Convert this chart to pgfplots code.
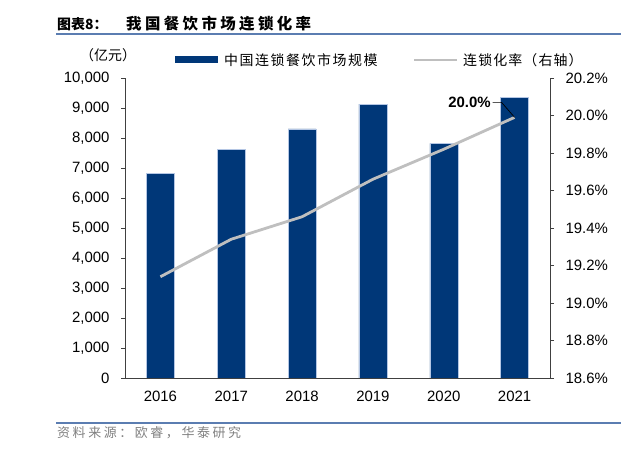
\documentclass[border=0pt]{standalone}
\usepackage{fontspec}
\setmainfont{Liberation Sans}
\newfontfamily\cjk{Noto Sans CJK SC}
\usepackage{pgfplots}
\pgfplotsset{compat=1.18}
\definecolor{barblue}{RGB}{0,55,120}
\definecolor{baredge}{RGB}{180,198,228}
\definecolor{linegray}{RGB}{191,191,191}
\definecolor{rulecol}{RGB}{91,125,177}
\definecolor{srcgray}{RGB}{128,128,128}
\begin{document}
\begin{tikzpicture}[x=1bp,y=1bp]
\useasboundingbox (0,0) rectangle (641,467);
% title
\node[anchor=west,inner sep=0] at (57,443) {\cjk\bfseries\fontsize{14}{16}\selectfont 图表8：};
\node[anchor=west,inner sep=0] at (126,443) {\cjk\bfseries\fontsize{15.5}{18}\selectfont\addfontfeatures{LetterSpace=22}我国餐饮市场连锁化率};
\draw[rulecol,line width=1.8bp] (56,433) -- (621,433);
% unit
\node[anchor=west,inner sep=0] at (80,412) {\cjk\fontsize{14}{16}\selectfont （亿元）};
% legend
\fill[barblue] (175,403.5) rectangle (218,410.5);
\node[anchor=west,inner sep=0] at (224,407) {\cjk\fontsize{14}{16}\selectfont\addfontfeatures{LetterSpace=11}中国连锁餐饮市场规模};
\draw[linegray,line width=2.5bp] (414,407) -- (457,407);
\node[anchor=west,inner sep=0] at (463,407) {\cjk\fontsize{14}{16}\selectfont\addfontfeatures{LetterSpace=8}连锁化率（右轴）};
% bottom
\draw[rulecol,line width=1.8bp] (56,44) -- (621,44);
\node[anchor=west,inner sep=0,text=srcgray] at (57,34) {\cjk\fontsize{13}{15}\selectfont\addfontfeatures{LetterSpace=20}资料来源：欧睿，华泰研究};

\begin{axis}[
  at={(125bp,89bp)}, anchor=south west,
  scale only axis, width=425bp, height=300bp,
  xmin=-0.5, xmax=5.5, ymin=0, ymax=10000,
  axis y line*=left, axis x line*=bottom,
  axis line style={black!75, line width=0.8bp},
  xtick={0,1,2,3,4,5},
  xticklabels={2016,2017,2018,2019,2020,2021},
  x tick style={draw=none},
  extra x ticks={0.5,1.5,2.5,3.5,4.5},
  extra x tick labels={},
  extra x tick style={tick style={draw=black!75,line width=0.8bp}, major tick length=4bp, tick align=outside},
  ytick={0,1000,...,10000},
  scaled y ticks=false,
  y tick style={black!75,line width=0.8bp},
  major tick length=4bp, tick align=outside,
  ticklabel style={font=\fontsize{15}{18}\selectfont},
  yticklabel style={xshift=-8bp},
  xticklabel style={yshift=-6bp},
  /pgf/number format/.cd, 1000 sep={,}, assume math mode=true,
]
\addplot[ybar, bar width=28bp, fill=barblue, draw=baredge, line width=0.5bp]
  coordinates {(0,6830) (1,7630) (2,8300) (3,9125) (4,7820) (5,9360)};
\end{axis}

\begin{axis}[
  at={(125bp,89bp)}, anchor=south west,
  scale only axis, width=425bp, height=300bp,
  xmin=-0.5, xmax=5.5, ymin=18.6, ymax=20.2,
  axis y line*=right, axis x line=none,
  axis line style={black!75, line width=0.8bp},
  ytick={18.6,18.8,19.0,19.2,19.4,19.6,19.8,20.0,20.2},
  y tick style={black!75,line width=0.8bp},
  major tick length=4bp, tick align=outside,
  yticklabel={\pgfmathprintnumber[fixed,fixed zerofill,precision=1,assume math mode=true]{\tick}\%},
  ticklabel style={font=\fontsize{15}{18}\selectfont},
  yticklabel style={xshift=8bp},
  clip=false,
]
\addplot[linegray, line width=2.8bp, mark=none]
  coordinates {(0,19.14) (1,19.34) (2,19.46) (3,19.66) (4,19.82) (5,19.99)};
\draw[black, line width=0.7bp] (axis cs:5,19.99) -- (axis cs:4.816,20.07) -- (axis cs:4.689,20.07)
  node[left, inner sep=1.5bp, font=\bfseries\fontsize{15}{18}\selectfont] {20.0\%};
\end{axis}
\end{tikzpicture}
\end{document}
